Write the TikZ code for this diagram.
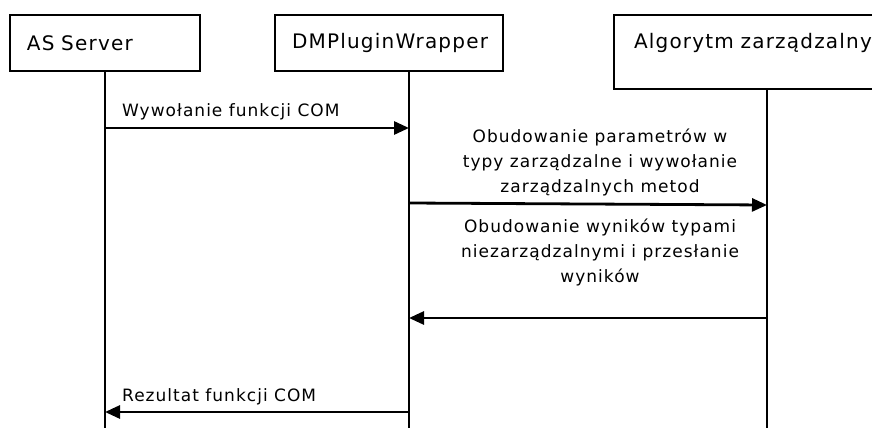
\documentclass[tikz,border=0pt]{standalone}
\usepackage{fontspec}
\setmainfont{DejaVu Sans}[LetterSpace=6]
\usetikzlibrary{positioning,arrows.meta}

\begin{document}
\begin{tikzpicture}[x=1pt,y=-1pt,
    box/.style={draw,line width=1.6pt,align=left,inner xsep=17pt,font=\fontsize{20}{24}\selectfont},
    life/.style={line width=1.6pt},
    msg/.style={line width=2.8pt,-{Stealth[inset=0pt,length=15pt,width=13pt]}},
    lbl/.style={font=\fontsize{17}{25}\selectfont,inner sep=0pt}]
    \useasboundingbox (0,0) rectangle (872,428);
    \clip (0,0) rectangle (872,428);
    %% participants
     \node (srv) [box,minimum width=190pt,minimum height=56pt,text width=156pt] at (105,43) {AS Server};
     \node (dmw) [box,minimum width=228pt,minimum height=56pt,text width=194pt] at (389,43) {DMPluginWrapper};
     \node (alg) [box,minimum width=300pt,minimum height=74pt,text width=260pt,inner xsep=20pt,text depth=22pt] at (764,52) {Algorytm zarządzalny};

    %% lifelines
     \coordinate (dmwtop) at (409,71);
     \coordinate (algtop) at (767,89);
     \coordinate (srvend) at (105,428);
     \coordinate (dmwend) at (409,428);
     \coordinate (algend) at (767,428);
     \draw[life] (srv.south) -- (srvend);
     \draw[life] (dmwtop) -- (dmwend);
     \draw[life] (algtop) -- (algend);

    %% messages
     \coordinate (s1) at (105,128);
     \coordinate (d1) at (409,128);
     \coordinate (d2) at (409,203);
     \coordinate (a2) at (767,205);
     \coordinate (a3) at (767,318);
     \coordinate (d3) at (409,318);
     \coordinate (d4) at (409,412);
     \coordinate (s4) at (105,412);

     \draw[msg] (s1) -- (d1);
     \draw[msg] (d2) -- (a2);
     \draw[msg] (a3) -- (d3);
     \draw[msg] (d4) -- (s4);

     \node (l1) [lbl,anchor=base west] at (122,116) {Wywołanie funkcji COM};
     \node (l2) [lbl,align=center] at (600,162) {Obudowanie parametrów w\\typy zarządzalne i wywołanie\\zarządzalnych metod};
     \node (l3) [lbl,align=center] at (600,252) {Obudowanie wyników typami\\niezarządzalnymi i przesłanie\\wyników};
     \node (l4) [lbl,anchor=base west] at (122,401) {Rezultat funkcji COM};
    \end{tikzpicture}
\end{document}
